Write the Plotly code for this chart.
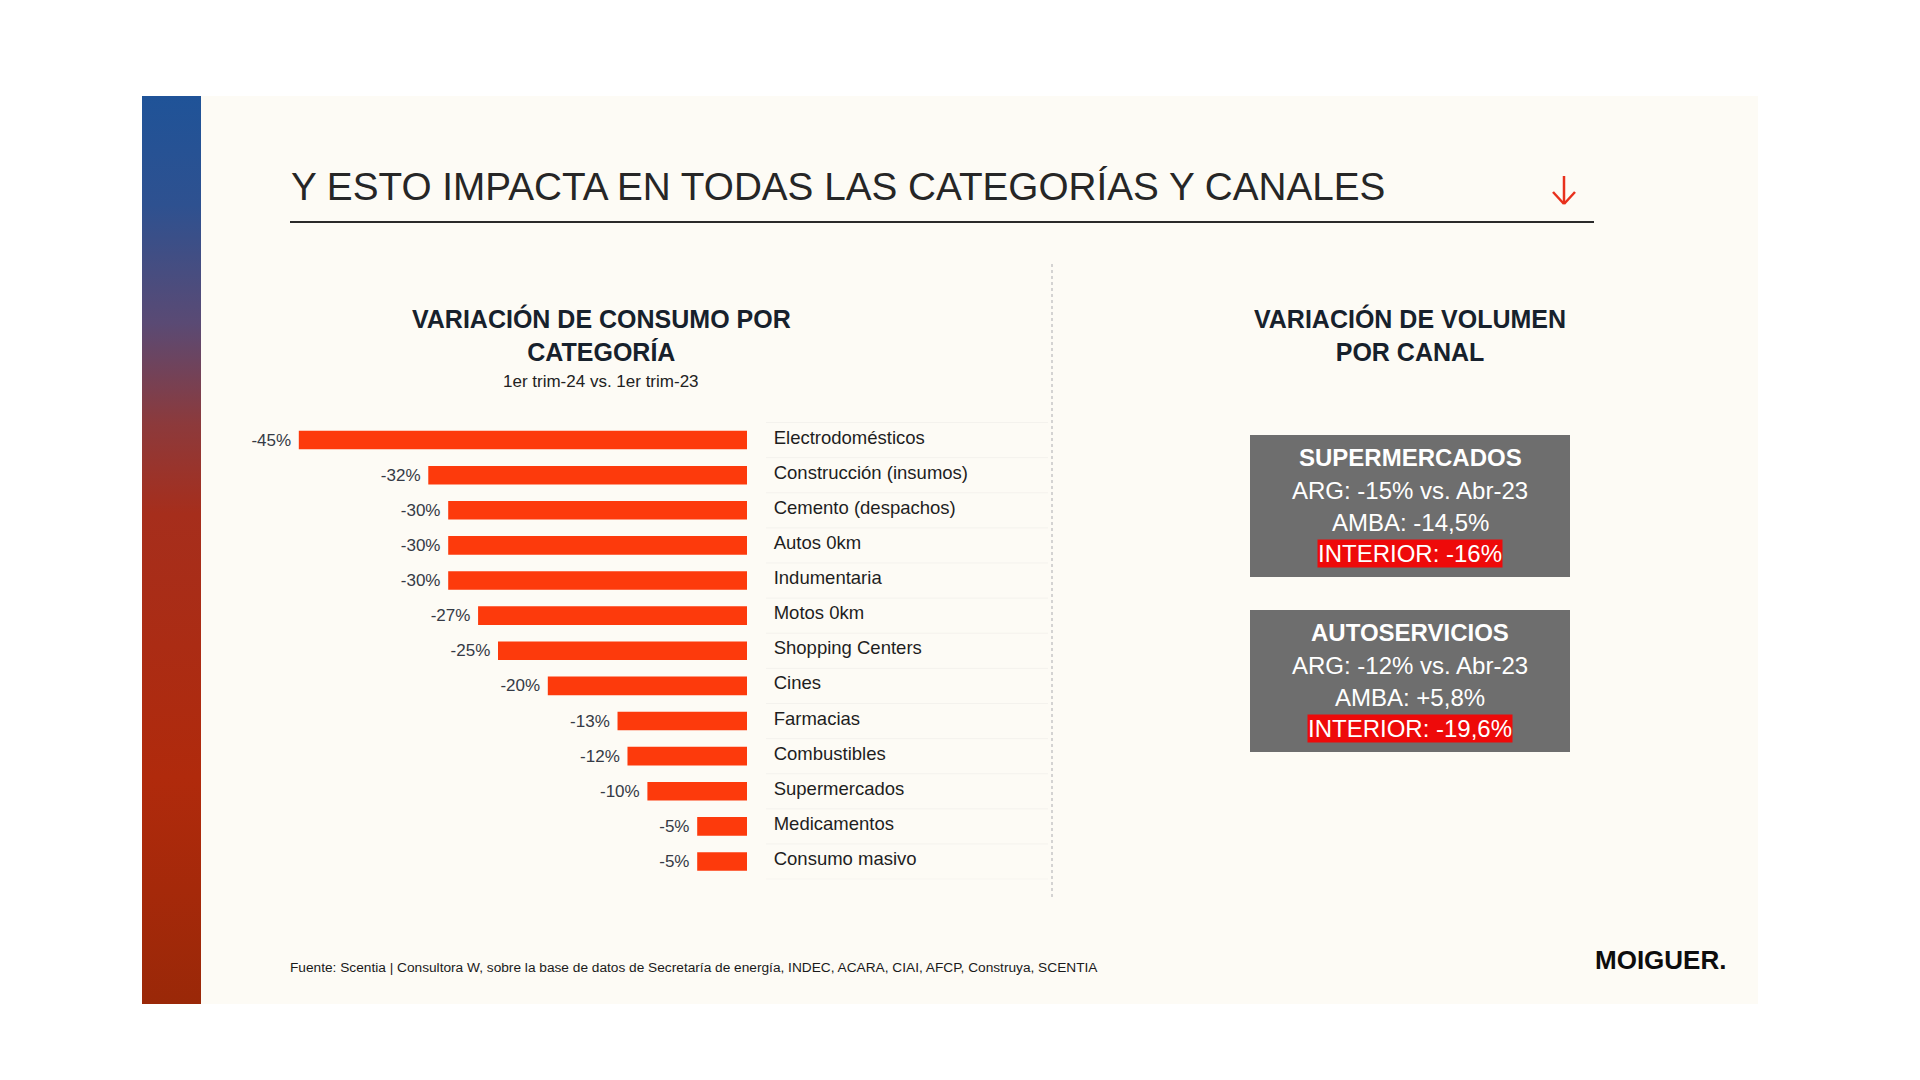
import base64
import plotly.graph_objects as go

W, H = 1920, 1080

# ---------------- data ----------------
categories = ["Electrodomésticos", "Construcción (insumos)", "Cemento (despachos)", "Autos 0km",
              "Indumentaria", "Motos 0km", "Shopping Centers", "Cines", "Farmacias",
              "Combustibles", "Supermercados", "Medicamentos", "Consumo masivo"]
variation = [-45, -32, -30, -30, -30, -27, -25, -20, -13, -12, -10, -5, -5]

channels = ["SUPERMERCADOS", "AUTOSERVICIOS"]
arg_values = ["-15%", "-12%"]
amba_values = ["-14,5%", "+5,8%"]
interior_values = ["-16%", "-19,6%"]

title_text = "Y ESTO IMPACTA EN TODAS LAS CATEGORÍAS Y CANALES"
left_heading = "VARIACIÓN DE CONSUMO POR<br>CATEGORÍA"
left_sub = "1er trim-24 vs. 1er trim-23"
right_heading = "VARIACIÓN DE VOLUMEN<br>POR CANAL"
source_text = ("Fuente: Scentia | Consultora W, sobre la base de datos de Secretaría de energía, "
               "INDEC, ACARA, CIAI, AFCP, Construya, SCENTIA")
logo_text = "MOIGUER."

FONT = "Liberation Sans, Arial, Helvetica, sans-serif"


def px(x):
    return x / W


def py(y):
    return 1 - y / H


fig = go.Figure()

fig.add_trace(go.Bar(
    x=variation, y=categories, orientation="h",
    marker=dict(color="#fd3a0c", line=dict(width=0)),
    text=[f"{v}%\u00a0" for v in variation],
    textposition="outside", constraintext="none", cliponaxis=False,
    textfont=dict(family=FONT, size=17, color="#353a45"),
    hoverinfo="skip", showlegend=False,
))

shapes = []
# slide background
shapes.append(dict(type="rect", xref="paper", yref="paper", x0=px(142), x1=px(1758),
                   y0=py(1004), y1=py(96), fillcolor="#fdfbf5", line=dict(width=0), layer="below"))
# title underline
shapes.append(dict(type="line", xref="paper", yref="paper", x0=px(290), x1=px(1594),
                   y0=py(222), y1=py(222), line=dict(color="#2a2a2a", width=2)))
# red arrow
ac = "#e8301c"
shapes.append(dict(type="line", xref="paper", yref="paper", x0=px(1564), x1=px(1564),
                   y0=py(176), y1=py(204), line=dict(color=ac, width=2.5)))
shapes.append(dict(type="line", xref="paper", yref="paper", x0=px(1553), x1=px(1564),
                   y0=py(192), y1=py(204), line=dict(color=ac, width=2.5)))
shapes.append(dict(type="line", xref="paper", yref="paper", x0=px(1575), x1=px(1564),
                   y0=py(192), y1=py(204), line=dict(color=ac, width=2.5)))
# dashed separator
shapes.append(dict(type="line", xref="paper", yref="paper", x0=px(1052), x1=px(1052),
                   y0=py(264), y1=py(900), line=dict(color="#c6c6c6", width=1.5, dash="dot")))
# faint row separators in label column
for k in range(len(categories) + 1):
    shapes.append(dict(type="line", xref="paper", yref="y", x0=px(766), x1=px(1048),
                       y0=k - 0.5, y1=k - 0.5, line=dict(color="#f4f2ed", width=1), layer="below"))
# channel boxes
box_tops = [435, 610]
box_h = 142
for t in box_tops:
    shapes.append(dict(type="rect", xref="paper", yref="paper", x0=px(1250), x1=px(1570),
                       y0=py(t + box_h), y1=py(t), fillcolor="#6e6e6e", line=dict(width=0)))

annotations = []
annotations.append(dict(text=title_text, x=px(289), y=py(186), xref="paper", yref="paper",
                        xanchor="left", yanchor="middle", showarrow=False,
                        font=dict(family=FONT, size=38.7, color="#262626")))
annotations.append(dict(text=left_heading, x=px(601), y=py(335), xref="paper", yref="paper",
                        xanchor="center", yanchor="middle", showarrow=False,
                        font=dict(family=FONT, size=25, color="#17212c", weight="bold")))
annotations.append(dict(text=left_sub, x=px(601), y=py(381), xref="paper", yref="paper",
                        xanchor="center", yanchor="middle", showarrow=False,
                        font=dict(family=FONT, size=17, color="#222222")))
annotations.append(dict(text=right_heading, x=px(1410), y=py(335), xref="paper", yref="paper",
                        xanchor="center", yanchor="middle", showarrow=False,
                        font=dict(family=FONT, size=25, color="#17212c", weight="bold")))

for i, t in enumerate(box_tops):
    lines = [
        (channels[i], True, None),
        (f"ARG: {arg_values[i]} vs. Abr-23", False, None),
        (f"AMBA: {amba_values[i]}", False, None),
        (f"INTERIOR: {interior_values[i]}", False, "#ee0a0a"),
    ]
    offs = [22, 55, 87, 118]
    for (txt, bold, bg), o in zip(lines, offs):
        a = dict(text=txt, x=px(1410), y=py(t + o), xref="paper", yref="paper",
                 xanchor="center", yanchor="middle", showarrow=False,
                 font=dict(family=FONT, size=24, color="#ffffff",
                           weight="bold" if bold else "normal"))
        if bg:
            a["bgcolor"] = bg
            a["borderpad"] = 0
        annotations.append(a)

annotations.append(dict(text=source_text, x=px(288), y=py(967), xref="paper", yref="paper",
                        xanchor="left", yanchor="middle", showarrow=False,
                        font=dict(family=FONT, size=13.7, color="#1a1a1a")))
annotations.append(dict(text=logo_text, x=px(1593), y=py(960), xref="paper", yref="paper",
                        xanchor="left", yanchor="middle", showarrow=False,
                        font=dict(family=FONT, size=26, color="#0d0d0d", weight="bold")))

# gradient side bar as an SVG image
svg = ('<svg xmlns="http://www.w3.org/2000/svg" width="59" height="908" preserveAspectRatio="none">'
       '<defs><linearGradient id="g" x1="0" y1="0" x2="0" y2="1">'
       '<stop offset="0" stop-color="#1f5398"/>'
       '<stop offset="0.12" stop-color="#2e5190"/>'
       '<stop offset="0.25" stop-color="#5a4a74"/>'
       '<stop offset="0.36" stop-color="#8c3a3c"/>'
       '<stop offset="0.46" stop-color="#a62e1c"/>'
       '<stop offset="0.75" stop-color="#b02a0c"/>'
       '<stop offset="1" stop-color="#9a2808"/>'
       '</linearGradient></defs>'
       '<rect x="0" y="0" width="59" height="908" fill="url(#g)"/></svg>')
svg_uri = "data:image/svg+xml;base64," + base64.b64encode(svg.encode()).decode()

images = [dict(source=svg_uri, xref="paper", yref="paper", x=px(142), y=py(96),
               sizex=px(201) - px(142), sizey=(1004 - 96) / H, xanchor="left", yanchor="top",
               sizing="stretch", layer="above")]

row_top, row_bot = 422, 879.6
fig.update_layout(
    width=W, height=H, autosize=False,
    margin=dict(l=0, r=0, t=0, b=0, pad=0),
    paper_bgcolor="#ffffff", plot_bgcolor="rgba(0,0,0,0)",
    font=dict(family=FONT),
    bargap=0.47,
    shapes=shapes, annotations=annotations, images=images,
    xaxis=dict(domain=[px(249), px(747)], range=[-50, 0], visible=False, fixedrange=True),
    yaxis=dict(domain=[py(row_bot), py(row_top)], categoryorder="array",
               categoryarray=categories, autorange="reversed", side="right",
               showgrid=False, zeroline=False, showline=False,
               ticks="outside", ticklen=22, tickcolor="rgba(0,0,0,0)",
               ticklabelshift=3,
               tickfont=dict(family=FONT, size=18.5, color="#1e1e1e"), fixedrange=True),
    hovermode=False,
)

fig.write_html("out.html", config=dict(displayModeBar=False),
               post_script="document.body.style.margin='0';")
